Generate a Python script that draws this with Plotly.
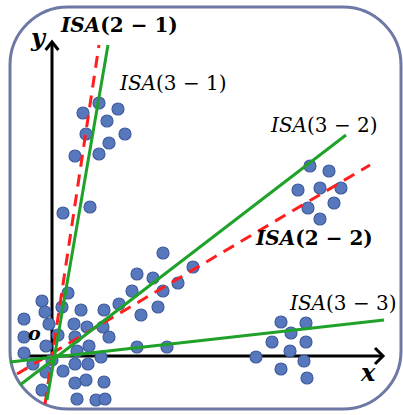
import plotly.graph_objects as go

# ---- data (origin of the axes at 0,0) ----
cluster_top_x = [31, 47, 66, 55, 34, 73, 57, 47, 23, 38, 11]
cluster_top_y = [243, 253, 247, 235, 222, 222, 213, 202, 200, 149, 143]

cluster_upper_right_x = [258, 277, 246, 268, 289, 256, 282, 268]
cluster_upper_right_y = [190, 185, 166, 168, 168, 148, 153, 137]

cluster_mid_x = [111, 85, 101, 80, 111, 126, 141, 67, 52, 89, 106, 16]
cluster_mid_y = [103, 82, 78, 65, 65, 73, 89, 52, 46, 41, 49, 63]

cluster_origin_x = [-10, -7, 10, 29, -28, -3, 22, 35, 51, -28, 6, 23, 57, -6, 37, 85, 115,
                    -28, 25, 49, 0, -19, 23, 36, -6, 11, 23, 34, 52, -10, 25, 44, 53]
cluster_origin_y = [55, 44, 49, 46, 37, 32, 32, 29, 29, 19, 21, 19, 19, 10, 10, 9, 9,
                    3, 5, -1, -4, -8, -8, -8, -16, -15, -27, -24, -26, -34, -43, -44, -43]

cluster_right_x = [229, 254, 239, 220, 254, 204, 238, 252, 229, 255]
cluster_right_y = [34, 33, 23, 14, 14, -1, 5, -5, -13, -22]

# lines: [start, end]
isa_3_1_x = [-5, 56];   isa_3_1_y = [-44, 311]
isa_2_1_x = [-7, 47];   isa_2_1_y = [-48, 311]
isa_3_2_x = [-32, 294]; isa_3_2_y = [-29, 221]
isa_2_2_x = [-35, 318]; isa_2_2_y = [-18, 191]
isa_3_3_x = [-42, 332]; isa_3_3_y = [-6, 36]

x_axis_x = [-24, 331]; x_axis_y = [0, 0]
y_axis_x = [0, 0];     y_axis_y = [-8, 314]

labels = ["ISA(2 − 1)", "ISA(3 − 1)", "ISA(3 − 2)", "ISA(2 − 2)", "ISA(3 − 3)"]
axis_labels = ["x", "y", "o"]

DOT = "#5878BE"
DOT_EDGE = "#3F5C9C"
GREEN = "#1FA229"
RED = "#FF1E1E"
FONT = "DejaVu Serif"

fig = go.Figure()

# axes
fig.add_trace(go.Scatter(x=x_axis_x, y=x_axis_y, mode="lines",
                         line=dict(color="black", width=3), hoverinfo="skip"))
fig.add_trace(go.Scatter(x=y_axis_x, y=y_axis_y, mode="lines",
                         line=dict(color="black", width=3), hoverinfo="skip"))
# arrow heads (computed from axis ends)
h = 8
xt, yt = x_axis_x[1], x_axis_y[1]
fig.add_trace(go.Scatter(x=[xt - h, xt, xt - h], y=[yt + h, yt, yt - h], mode="lines",
                         line=dict(color="black", width=3), hoverinfo="skip"))
xt, yt = y_axis_x[1], y_axis_y[1]
fig.add_trace(go.Scatter(x=[xt - h * 0.8, xt, xt + h * 0.8], y=[yt - h, yt, yt - h], mode="lines",
                         line=dict(color="black", width=3), hoverinfo="skip"))

# dots
all_x = cluster_top_x + cluster_upper_right_x + cluster_mid_x + cluster_origin_x + cluster_right_x
all_y = cluster_top_y + cluster_upper_right_y + cluster_mid_y + cluster_origin_y + cluster_right_y
fig.add_trace(go.Scatter(x=all_x, y=all_y, mode="markers",
                         marker=dict(size=12, color=DOT, line=dict(color=DOT_EDGE, width=1.2)),
                         hoverinfo="skip"))

# lines
for lx, ly, col, dash in [
    (isa_2_1_x, isa_2_1_y, RED, "12px,8px"),
    (isa_2_2_x, isa_2_2_y, RED, "12px,8px"),
    (isa_3_1_x, isa_3_1_y, GREEN, "solid"),
    (isa_3_2_x, isa_3_2_y, GREEN, "solid"),
    (isa_3_3_x, isa_3_3_y, GREEN, "solid"),
]:
    fig.add_trace(go.Scatter(x=lx, y=ly, mode="lines",
                             line=dict(color=col, width=3, dash=dash), hoverinfo="skip"))

# rounded frame (circular-arc approximations with cubic Beziers)
x0, x1, y0, y1, r = -42, 349, -53, 349, 58
k = r * 0.45
path = (f"M {x0 + r},{y1} L {x1 - r},{y1} "
        f"C {x1 - k},{y1} {x1},{y1 - k} {x1},{y1 - r} "
        f"L {x1},{y0 + r} "
        f"C {x1},{y0 + k} {x1 - k},{y0} {x1 - r},{y0} "
        f"L {x0 + r},{y0} "
        f"C {x0 + k},{y0} {x0},{y0 + k} {x0},{y0 + r} "
        f"L {x0},{y1 - r} "
        f"C {x0},{y1 - k} {x0 + k},{y1} {x0 + r},{y1} Z")
fig.add_shape(type="path", path=path, line=dict(color="#6E78A4", width=3), layer="below")

def fmt(lbl, bold):
    name, rest = lbl[:3], lbl[3:]
    s = f"<i>{name}</i>{rest}"
    return f"<b>{s}</b>" if bold else s

label_pos = [(6, 331, True), (65, 273, False), (216, 231, False), (201, 118, True), (235, 53, False)]
for lbl, (lx, ly, bold) in zip(labels, label_pos):
    fig.add_annotation(x=lx, y=ly, text=fmt(lbl, bold), showarrow=False,
                       xanchor="left", yanchor="middle",
                       font=dict(family=FONT, size=20, color="black"))

axis_pos = [(316, -16, 24), (-14, 319, 24), (-18, 23, 19)]
for lbl, (lx, ly, sz) in zip(axis_labels, axis_pos):
    fig.add_annotation(x=lx, y=ly, text=f"<b><i>{lbl}</i></b>", showarrow=False,
                       xanchor="center", yanchor="middle",
                       font=dict(family=FONT, size=sz, color="black"))

fig.update_layout(
    width=403, height=415, autosize=False,
    margin=dict(l=0, r=0, t=0, b=0),
    paper_bgcolor="white", plot_bgcolor="white",
    showlegend=False,
    xaxis=dict(range=[-52, 351], visible=False, fixedrange=True),
    yaxis=dict(range=[-59, 356], visible=False, fixedrange=True),
)

fig.write_html("out.html", config={"displayModeBar": False},
               post_script="document.body.style.margin='0';document.body.style.overflow='hidden';")
